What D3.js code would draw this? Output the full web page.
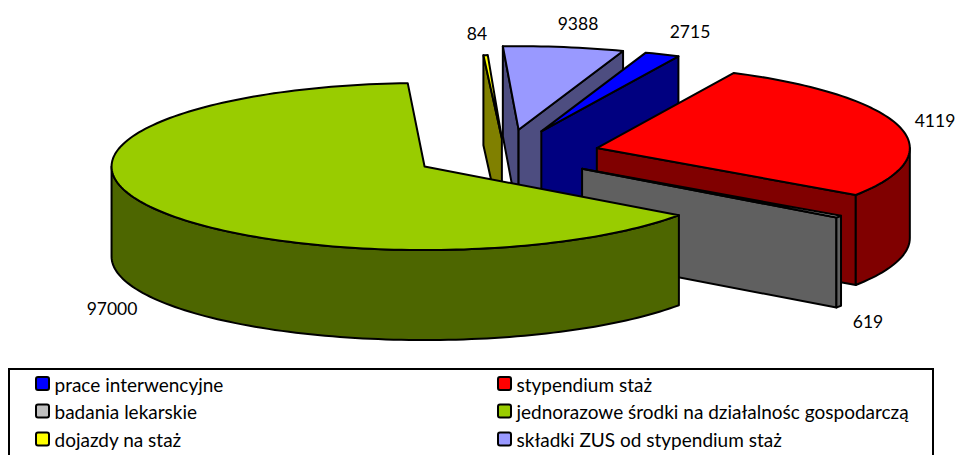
<!DOCTYPE html>
<html>
<head>
<meta charset="utf-8">
<script src="https://cdn.jsdelivr.net/npm/d3@7"></script>
<style>
    html, body { margin: 0; padding: 0; background: #fff; overflow: hidden; }
    text { font-family: Lato, sans-serif; fill: #000; }
</style>
</head>
<body>
<script>
var categories = ['prace interwencyjne', 'stypendium staż', 'badania lekarskie',
    'jednorazowe środki na działalnośc gospodarczą', 'dojazdy na staż', 'składki ZUS od stypendium staż'];
// slice sizes as drawn; the red label is cut by the picture edge (41190 shows as 4119)
var seriesValues = [2715, 41190, 619, 97000, 84, 9388];
var valueLabels = ['2715', '4119', '619', '97000', '84', '9388'];
var topColors = ['#0000ff', '#ff0000', '#c0c0c0', '#99cc00', '#ffff00', '#9999ff'];
var wallColors = ['#000080', '#800000', '#606060', '#4d6600', '#808000', '#4d4d80'];
var labelAt = [[690, 38], [935, 127], [868, 328], [112, 315], [477, 40], [578, 30]];
var explodeBy = [94, 94, 94, 94, 60, 94];
var nudgeX = [-2, -1, -2, 0, -2, -2];
var drawOrder = [4, 5, 0, 1, 2, 3];

var width = 958, height = 455;
var cx = 507, cy = 154.5;
var rx = 313, ry = 83.5, depth = 90;
var minSlice = 0.8 * Math.PI / 180;

var svg = d3.select('body').append('svg').attr('width', width).attr('height', height);

// pie angles run clockwise from 12 o'clock, which is what the ellipse below expects
var pie = d3.pie().value(function (d) { return d; }).sort(null)
    .startAngle(19.5 * Math.PI / 180).endAngle((19.5 + 360) * Math.PI / 180);
var arcs = pie(seriesValues);

function pointAt(a, r) {
    return [r * rx * Math.sin(a), -r * ry * Math.cos(a)];
}

function arcPoints(a0, a1, ox, oy) {
    var steps = Math.max(2, Math.ceil(Math.abs(a1 - a0) * 40));
    return d3.range(steps + 1).map(function (i) {
        var p = pointAt(a0 + (a1 - a0) * i / steps, 1);
        return [ox + p[0], oy + p[1]];
    });
}

var line = d3.line();

function face(pts, color) {
    svg.append('path')
        .attr('d', line(pts) + 'Z')
        .attr('fill', color)
        .attr('stroke', '#000')
        .attr('stroke-width', 2)
        .attr('stroke-linejoin', 'round');
}

drawOrder.forEach(function (i) {
    var a0 = arcs[i].startAngle, a1 = arcs[i].endAngle;
    var mid = (a0 + a1) / 2;
    // tiny slices would vanish under their own outline
    if (a1 - a0 < minSlice) {
        a0 = mid - minSlice / 2;
        a1 = mid + minSlice / 2;
    }
    var off = pointAt(mid, explodeBy[i] / rx);
    // offset is along the mid angle, flattened the same way as the ellipse
    var ox = cx + off[0] + nudgeX[i], oy = cy + off[1];

    // radial side faces, only those turned to the viewer
    [a0, a1].forEach(function (a, k) {
        var visible = k == 0 ? Math.sin(a) < 0 : Math.sin(a) > 0;
        if (!visible) return;
        var p = pointAt(a, 1);
        face([[ox, oy], [ox + p[0], oy + p[1]], [ox + p[0], oy + p[1] + depth], [ox, oy + depth]], wallColors[i]);
    });

    // outer rim, front half only
    var from = Math.max(a0, Math.PI / 2), to = Math.min(a1, 3 * Math.PI / 2);
    if (to > from) {
        var upper = arcPoints(from, to, ox, oy);
        var lower = upper.map(function (p) { return [p[0], p[1] + depth]; }).reverse();
        face(upper.concat(lower), wallColors[i]);
    }

    face([[ox, oy]].concat(arcPoints(a0, a1, ox, oy)), topColors[i]);
});

svg.selectAll('text.value')
    .data(valueLabels)
    .enter().append('text')
    .attr('class', 'value')
    .attr('x', function (d, i) { return labelAt[i][0]; })
    .attr('y', function (d, i) { return labelAt[i][1]; })
    .attr('text-anchor', 'middle')
    .attr('font-size', 17.5)
    .text(function (d) { return d; });

// legend box, its bottom edge falls outside the picture
svg.append('path')
    .attr('d', line([[9, 455], [9, 369], [933, 369], [933, 455]]))
    .attr('fill', 'none').attr('stroke', '#000').attr('stroke-width', 2);

var legendX = d3.scaleOrdinal().domain([0, 1]).range([36, 498]);
var legendY = d3.scaleOrdinal().domain([0, 1, 2]).range([384, 411.5, 439.5]);

var item = svg.selectAll('g.legend')
    .data(categories)
    .enter().append('g')
    .attr('class', 'legend')
    .attr('transform', function (d, i) {
        return 'translate(' + legendX(i % 2) + ',' + legendY(Math.floor(i / 2)) + ')';
    });

item.append('rect').attr('x', 0).attr('y', -7).attr('width', 13).attr('height', 13).attr('rx', 2)
    .attr('fill', function (d, i) { return topColors[i]; })
    .attr('stroke', '#000').attr('stroke-width', 2);

item.append('text').attr('x', 18.5).attr('y', 7.5).attr('font-size', 19)
    .text(function (d) { return d; });
</script>
</body>
</html>
